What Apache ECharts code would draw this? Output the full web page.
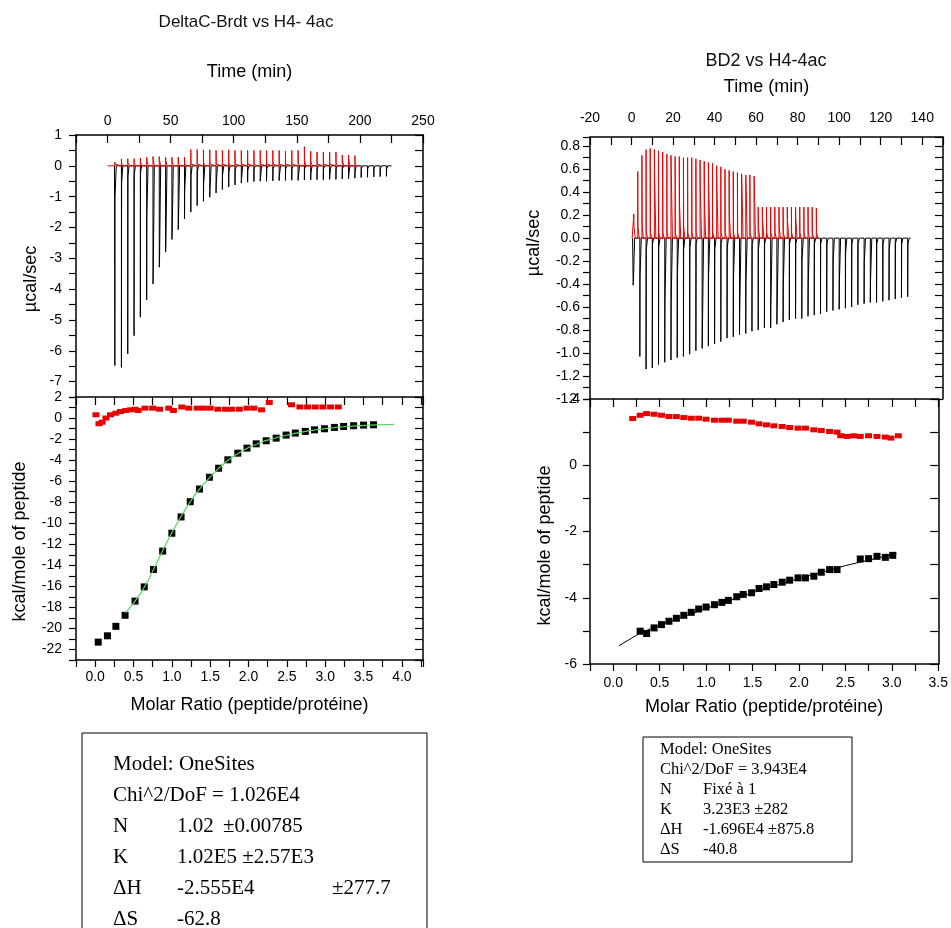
<!DOCTYPE html>
<html><head><meta charset="utf-8">
<script src="https://cdn.jsdelivr.net/npm/echarts@6/dist/echarts.min.js"></script>
<style>html,body{margin:0;padding:0;background:#fff}#c{width:951px;height:928px}</style>
</head><body><div id="c"></div>
<script>
// ---------- DATA ----------
// Left thermogram (DeltaC-Brdt vs H4-4ac), time in min, power in µcal/sec
const leftBlackTimes = [5.8,11,16,21,26,31,36,41,46,51,56,61,66,71,76,81,86,91,96,101,106,111,116,121,126,131,136,141,146,151,156,161,166,171,176,181,186,191,196,201,206,211,216,221];
const leftBlackPeaks = [-6.48,-6.54,-6.1,-5.51,-4.91,-4.35,-3.83,-3.29,-2.80,-2.39,-2.07,-1.72,-1.50,-1.29,-1.15,-1.02,-0.88,-0.77,-0.69,-0.62,-0.56,-0.53,-0.51,-0.50,-0.50,-0.49,-0.48,-0.48,-0.47,-0.47,-0.46,-0.46,-0.45,-0.45,-0.44,-0.44,-0.43,-0.42,-0.40,-0.38,-0.37,-0.36,-0.35,-0.34];
const leftBlackTails = [-1.0,-0.55,-0.35,-0.3,-0.2,-1.6,-3.7,-3.2,-2.7,-2.3,-1.9,-0.8,-0.3,-0.2,-0.6,-0.8,-0.6,-0.3,-0.2,-0.15,-0.45,-0.15,-0.1,-0.45,-0.1,-0.1,-0.35,-0.1,-0.1,-0.4,-0.1,-0.25,-0.1,-0.1,-0.3,-0.1,-0.1,-0.3,-0.2,-0.1,-0.1,-0.1,-0.1,-0.1];
const leftBlackBaseline = [5.5, 225];
const leftRedTimes = [5.8,11,16,21,26,31,36,41,46,51,56,61,66,71,76,81,86,91,96,101,106,111,116,121,126,131,136,141,146,151,156,161,166,171,176,181,186,191,196];
const leftRedPeaks = [0.12,0.23,0.23,0.23,0.25,0.28,0.3,0.3,0.28,0.28,0.28,0.28,0.53,0.53,0.52,0.52,0.5,0.5,0.52,0.5,0.5,0.5,0.5,0.5,0.5,0.5,0.5,0.48,0.5,0.5,0.62,0.47,0.45,0.45,0.45,0.45,0.35,0.35,0.33];
const leftRedTails = [0.05,0.08,0.1,0.1,0.12,0.2,0.22,0.2,0.18,0.15,0.1,0.08,0.05,0.05,0.1,0.05,0.05,0.05,0.1,0.05,0.05,0.05,0.1,0.05,0.05,0.05,0.05,0.05,0.05,0.1,0.2,0.15,0.05,0.05,0.05,0.1,0.2,0.2,0.1];
const leftRedBaseline = [0, 200];

// Left binding isotherm, molar ratio vs kcal/mole of peptide
const leftRatio = [0.04,0.16,0.27,0.39,0.52,0.64,0.76,0.88,1.0,1.12,1.24,1.36,1.49,1.61,1.73,1.86,1.98,2.1,2.23,2.36,2.49,2.61,2.74,2.86,2.99,3.12,3.24,3.37,3.5,3.63];
const leftHeat = [-21.3,-20.7,-19.8,-18.75,-17.4,-16.05,-14.4,-12.65,-10.95,-9.4,-7.95,-6.75,-5.63,-4.77,-3.97,-3.34,-2.86,-2.45,-2.16,-1.91,-1.62,-1.43,-1.27,-1.12,-1.02,-0.89,-0.8,-0.73,-0.67,-0.64];
const leftCtrlRatio = [0.01,0.05,0.09,0.14,0.2,0.27,0.33,0.4,0.46,0.52,0.56,0.65,0.75,0.84,0.96,1.02,1.13,1.22,1.33,1.41,1.5,1.6,1.7,1.78,1.88,1.98,2.07,2.17,2.27,2.56,2.67,2.77,2.87,2.97,3.07,3.17];
const leftCtrlHeat = [0.31,-0.54,-0.4,0.0,0.31,0.46,0.62,0.72,0.78,0.84,0.72,0.94,0.94,0.84,0.94,0.72,1.05,0.94,0.94,0.94,0.94,0.84,0.84,0.84,0.84,0.94,0.94,0.78,1.48,1.26,1.05,1.05,1.05,1.05,1.05,1.05];
const leftFitX = [0.4,0.52,0.6,0.7,0.8,0.9,1.0,1.1,1.2,1.3,1.4,1.5,1.6,1.7,1.8,1.9,2.0,2.2,2.4,2.6,2.8,3.0,3.2,3.4,3.6,3.9];
const leftFitY = [-18.5,-17.4,-16.6,-15.3,-13.8,-12.3,-10.9,-9.6,-8.4,-7.3,-6.4,-5.6,-4.85,-4.2,-3.65,-3.2,-2.8,-2.2,-1.8,-1.45,-1.2,-1.0,-0.85,-0.75,-0.68,-0.6];

// Right thermogram (BD2 vs H4-4ac)
const rightBlackTimes = [0.8,4,7,10,13,16,19,22,25,28,31,34,37,40,43,46,49,52,55,58,61,64,67,70,73,76,79,82,85,88,91,94,97,100,103,106,109,112,115,118,121,124,127,130,133];
const rightBlackPeaks = [-0.41,-1.03,-1.14,-1.13,-1.10,-1.08,-1.06,-1.04,-1.03,-1.01,-0.98,-0.96,-0.94,-0.92,-0.90,-0.87,-0.86,-0.84,-0.83,-0.81,-0.80,-0.78,-0.78,-0.75,-0.73,-0.71,-0.70,-0.70,-0.68,-0.67,-0.66,-0.64,-0.63,-0.62,-0.61,-0.60,-0.58,-0.57,-0.56,-0.56,-0.55,-0.54,-0.53,-0.52,-0.51];
const rightBlackTails = [-0.38,-0.33,-0.1,-0.05,-0.08,-0.55,-0.53,-0.3,-0.1,-0.08,-0.05,-0.87,-0.32,-0.1,-0.05,-0.08,-0.35,-0.65,-0.38,-0.05,-0.1,-0.05,-0.6,-0.63,-0.4,-0.05,-0.05,-0.2,-0.4,-0.05,-0.05,-0.05,-0.2,-0.38,-0.13,-0.05,-0.05,-0.2,-0.38,-0.05,-0.05,-0.1,-0.05,-0.05,-0.05];
const rightBlackBaseline = [0.5, 134.5];
const rightRedTimes = [1.1,3,5,7,9,11,13,15,17,19,21,23,25,27,29,31,33,35,37,39,41,43,45,47,49,51,53,55,57,59,61,63,65,67,69,71,73,75,77,79,81,83,85,87,89];
const rightRedPeaks = [0.21,0.58,0.72,0.77,0.78,0.77,0.76,0.75,0.73,0.72,0.71,0.71,0.70,0.70,0.70,0.69,0.68,0.67,0.66,0.65,0.63,0.62,0.60,0.59,0.58,0.57,0.56,0.55,0.55,0.54,0.27,0.27,0.27,0.27,0.27,0.27,0.27,0.27,0.27,0.27,0.27,0.27,0.27,0.27,0.26];
const rightRedTails = [0.1,0.1,0.1,0.05,0.05,0.58,0.05,0.05,0.05,0.62,0.05,0.3,0.1,0.05,0.05,0.05,0.44,0.34,0.52,0.05,0.46,0.05,0.05,0.2,0.05,0.05,0.53,0.53,0.05,0.5,0.1,0.17,0.05,0.05,0.05,0.1,0.05,0.16,0.05,0.18,0.05,0.05,0.05,0.05,0.05];
const rightRedBaseline = [0.3, 89.7];

// Right binding isotherm
const rightRatio = [0.29,0.36,0.44,0.52,0.6,0.68,0.76,0.84,0.92,1.0,1.09,1.17,1.24,1.33,1.4,1.49,1.57,1.65,1.73,1.82,1.9,1.99,2.07,2.16,2.24,2.33,2.41,2.66,2.75,2.84,2.93,3.01];
const rightHeat = [-5.01,-5.08,-4.91,-4.81,-4.71,-4.62,-4.53,-4.44,-4.34,-4.28,-4.21,-4.14,-4.08,-3.97,-3.9,-3.85,-3.72,-3.67,-3.6,-3.53,-3.47,-3.4,-3.4,-3.35,-3.23,-3.15,-3.15,-2.83,-2.82,-2.75,-2.78,-2.72];
const rightCtrlRatio = [0.21,0.29,0.36,0.44,0.52,0.6,0.68,0.76,0.84,0.92,1.0,1.09,1.17,1.24,1.33,1.4,1.49,1.57,1.65,1.73,1.82,1.9,1.99,2.07,2.16,2.24,2.33,2.41,2.45,2.52,2.59,2.66,2.75,2.84,2.93,2.99,3.07];
const rightCtrlHeat = [1.41,1.51,1.56,1.54,1.51,1.47,1.47,1.44,1.42,1.42,1.39,1.36,1.36,1.36,1.33,1.33,1.3,1.25,1.22,1.19,1.17,1.14,1.12,1.12,1.07,1.05,1.02,1.0,0.89,0.87,0.89,0.87,0.89,0.87,0.85,0.82,0.89];
const rightFitX = [0.06,0.3,0.5,1.0,1.5,2.0,2.5,3.0,3.05];
const rightFitY = [-5.45,-5.05,-4.83,-4.32,-3.85,-3.42,-3.03,-2.7,-2.67];

// Titles and fit parameter text
const leftTitle = 'DeltaC-Brdt vs H4- 4ac';
const rightTitle = 'BD2 vs H4-4ac';
const timeName = 'Time (min)';
const powerName = 'µcal/sec';
const heatName = 'kcal/mole of peptide';
const ratioName = 'Molar Ratio (peptide/protéine)';
const leftFitRows = [['Model: OneSites'], ['Chi^2/DoF = 1.026E4'], ['N', '1.02', '±0.00785'], ['K', '1.02E5 ±2.57E3'], ['ΔH', '-2.555E4', '±277.7'], ['ΔS', '-62.8']];
const rightFitRows = [['Model: OneSites'], ['Chi^2/DoF = 3.943E4'], ['N', 'Fixé à 1'], ['K', '3.23E3 ±282'], ['ΔH', '-1.696E4 ±875.8'], ['ΔS', '-40.8']];

// ---------- BUILD ----------
function spikes(times, peaks, tails, base, w1, w2) {
  const d = [[base[0], 0]];
  times.forEach((t, i) => {
    d.push([t, 0], [t, peaks[i]], [t + w1, tails[i]], [t + w2, 0]);
  });
  d.push([base[1], 0]);
  return d;
}
const zip = (a, b) => a.map((v, i) => [v, b[i]]);
const isMult = (v, m) => Math.abs(v / m - Math.round(v / m)) < 1e-6;

const FONT = '"Liberation Sans", Arial, sans-serif';
const lblStyle = { color: '#000', fontSize: 14, fontFamily: FONT };
const nameStyle = { color: '#000', fontSize: 18, fontFamily: FONT };
const lineSt = { show: true, onZero: false, lineStyle: { color: '#000', width: 1.5 } };

function mainAxis(o) {
  return Object.assign({
    type: 'value', splitLine: { show: false }, axisLine: lineSt,
    axisTick: { show: true, inside: false, length: 7, lineStyle: { color: '#000', width: 1.2 } },
  }, o);
}
function mirror(o) {
  return Object.assign({
    type: 'value', splitLine: { show: false }, axisLine: lineSt,
    axisTick: { show: true, inside: true, length: 8, lineStyle: { color: '#000', width: 1.2 } },
    axisLabel: { show: false }
  }, o);
}

const xAxis = [
  mainAxis({ gridIndex: 0, position: 'top', min: -25, max: 250, interval: 25,
    axisTick: { show: true, inside: true, length: 8, lineStyle: { color: '#000', width: 1.2 } },
    axisLabel: Object.assign({ margin: 7, showMinLabel: true, showMaxLabel: true, formatter: v => isMult(v, 50) ? String(Math.round(v)) : '' }, lblStyle),
    name: timeName, nameLocation: 'middle', nameGap: 54, nameTextStyle: nameStyle }),
  mainAxis({ gridIndex: 1, position: 'bottom', min: -0.25, max: 4.275, interval: 0.25,
    axisLabel: Object.assign({ margin: 10, showMinLabel: true, showMaxLabel: true, formatter: v => isMult(v, 0.5) ? v.toFixed(1) : '' }, lblStyle),
    name: ratioName, nameLocation: 'middle', nameGap: 36, nameTextStyle: nameStyle }),
  mirror({ gridIndex: 1, position: 'top', min: -0.25, max: 4.275, interval: 0.25 }),
  mainAxis({ gridIndex: 2, position: 'top', min: -20, max: 150, interval: 10,
    axisTick: { show: true, inside: true, length: 8, lineStyle: { color: '#000', width: 1.2 } },
    axisLabel: Object.assign({ margin: 12, showMinLabel: true, showMaxLabel: true, formatter: v => isMult(v, 20) ? String(Math.round(v)) : '' }, lblStyle),
    name: timeName, nameLocation: 'middle', nameGap: 41, nameTextStyle: nameStyle }),
  mainAxis({ gridIndex: 3, position: 'bottom', min: -0.25, max: 3.5, interval: 0.25,
    axisLabel: Object.assign({ margin: 12, showMinLabel: true, showMaxLabel: true, formatter: v => isMult(v, 0.5) ? v.toFixed(1) : '' }, lblStyle),
    name: ratioName, nameLocation: 'middle', nameGap: 34, nameTextStyle: nameStyle }),
  mirror({ gridIndex: 3, position: 'top', min: -0.25, max: 3.5, interval: 0.25 })
];

const yAxis = [
  mainAxis({ gridIndex: 0, position: 'left', min: -7.5, max: 1, interval: 0.5,
    axisLabel: Object.assign({ margin: 14, showMinLabel: true, showMaxLabel: true, formatter: v => isMult(v, 1) ? String(Math.round(v)) : '' }, lblStyle),
    name: powerName, nameLocation: 'middle', nameGap: 36, nameTextStyle: Object.assign({ padding: [0, 26, 0, 0] }, nameStyle) }),
  mirror({ gridIndex: 0, position: 'right', min: -7.5, max: 1, interval: 0.5 }),
  mainAxis({ gridIndex: 1, position: 'left', min: -23, max: 2, interval: 1,
    axisLabel: Object.assign({ margin: 14, showMinLabel: true, showMaxLabel: true, formatter: v => isMult(v, 2) ? String(Math.round(v)) : '' }, lblStyle),
    name: heatName, nameLocation: 'middle', nameGap: 47, nameTextStyle: Object.assign({ padding: [0, 26, 0, 0] }, nameStyle) }),
  mirror({ gridIndex: 1, position: 'right', min: -23, max: 2, interval: 1 }),
  mainAxis({ gridIndex: 2, position: 'left', min: -1.4, max: 0.88, interval: 0.1,
    axisLabel: Object.assign({ margin: 10, showMinLabel: true, showMaxLabel: true, formatter: v => isMult(v, 0.2) ? v.toFixed(1) : '' }, lblStyle),
    name: powerName, nameLocation: 'middle', nameGap: 47, nameTextStyle: Object.assign({ padding: [0, 0, 0, 50] }, nameStyle) }),
  mirror({ gridIndex: 2, position: 'right', min: -1.4, max: 0.88, interval: 0.1 }),
  mainAxis({ gridIndex: 3, position: 'left', min: -6, max: 2, interval: 1,
    axisLabel: Object.assign({ margin: 13, showMinLabel: true, showMaxLabel: true, formatter: v => isMult(v, 2) ? String(Math.round(v)) : '' }, lblStyle),
    name: heatName, nameLocation: 'middle', nameGap: 36, nameTextStyle: Object.assign({ padding: [0, 28, 0, 0] }, nameStyle) }),
  mirror({ gridIndex: 3, position: 'right', min: -6, max: 2, interval: 1 })
];

const RED = '#e80000';
const thin = (color) => ({ color, width: 1 });
const solid = (color) => ({ color, opacity: 1, borderWidth: 0 });

const series = [
  { type: 'line', xAxisIndex: 0, yAxisIndex: 0, showSymbol: false, symbol: 'none', lineStyle: thin('#000'), data: spikes(leftBlackTimes, leftBlackPeaks, leftBlackTails, leftBlackBaseline, 0.15, 1.1) },
  { type: 'line', xAxisIndex: 0, yAxisIndex: 0, showSymbol: false, symbol: 'none', lineStyle: thin(RED), data: spikes(leftRedTimes, leftRedPeaks, leftRedTails, leftRedBaseline, 0.15, 1.1) },
  { type: 'line', xAxisIndex: 1, yAxisIndex: 2, showSymbol: false, symbol: 'none', lineStyle: { color: '#5fd35f', width: 1.2 }, data: zip(leftFitX, leftFitY) },
  { type: 'scatter', xAxisIndex: 1, yAxisIndex: 2, symbol: 'rect', symbolSize: 7, itemStyle: solid('#000'), data: zip(leftRatio, leftHeat) },
  { type: 'scatter', xAxisIndex: 1, yAxisIndex: 2, symbol: 'rect', symbolSize: [7, 5], itemStyle: solid(RED), data: zip(leftCtrlRatio, leftCtrlHeat) },
  { type: 'line', xAxisIndex: 3, yAxisIndex: 4, showSymbol: false, symbol: 'none', lineStyle: thin('#000'), data: spikes(rightBlackTimes, rightBlackPeaks, rightBlackTails, rightBlackBaseline, 0.1, 0.7) },
  { type: 'line', xAxisIndex: 3, yAxisIndex: 4, showSymbol: false, symbol: 'none', lineStyle: thin(RED), data: spikes(rightRedTimes, rightRedPeaks, rightRedTails, rightRedBaseline, 0.1, 0.7) },
  { type: 'line', xAxisIndex: 4, yAxisIndex: 6, showSymbol: false, symbol: 'none', lineStyle: { color: '#000', width: 1 }, data: zip(rightFitX, rightFitY) },
  { type: 'scatter', xAxisIndex: 4, yAxisIndex: 6, symbol: 'rect', symbolSize: 7, itemStyle: solid('#000'), data: zip(rightRatio, rightHeat) },
  { type: 'scatter', xAxisIndex: 4, yAxisIndex: 6, symbol: 'rect', symbolSize: [7, 5], itemStyle: solid(RED), data: zip(rightCtrlRatio, rightCtrlHeat) }
];

// fit-parameter boxes
function box(rows, rect, x0, colX, y0, dy, font, extraCols) {
  const els = [{ type: 'rect', shape: rect, style: { fill: '#fff', stroke: '#000', lineWidth: 1 }, z: 10 }];
  rows.forEach((r, i) => {
    r.forEach((txt, j) => {
      let x = j === 0 ? x0 : colX;
      if (j === 2) x = extraCols[i];
      els.push({ type: 'text', x: x, y: y0 + i * dy, z: 11,
        style: { text: txt, font: font, fill: '#000', align: 'left', verticalAlign: 'middle', textAlign: 'left', textVerticalAlign: 'middle' } });
    });
  });
  return els;
}
const graphic = [].concat(
  box(leftFitRows, { x: 82, y: 733, width: 345, height: 220 }, 113, 177, 764, 31, '21px "Liberation Serif", "Times New Roman", serif', { 2: 223, 4: 332 }),
  box(rightFitRows, { x: 643, y: 737, width: 209, height: 125 }, 660, 703, 750, 20, '16.5px "Liberation Serif", "Times New Roman", serif', {})
);

const chart = echarts.init(document.getElementById('c'), null, { renderer: 'canvas' });
chart.setOption({
  animation: false,
  backgroundColor: '#fff',
  title: [
    { text: leftTitle, left: 246, top: 14, padding: 0, textAlign: 'center', textStyle: { fontSize: 17, fontWeight: 'normal', color: '#111', fontFamily: FONT } },
    { text: rightTitle, left: 766, top: 52, padding: 0, textAlign: 'center', textStyle: { fontSize: 18, fontWeight: 'normal', color: '#111', fontFamily: FONT } }
  ],
  grid: [
    { left: 76, top: 135, width: 347, height: 262 },
    { left: 76, top: 397, width: 347, height: 263 },
    { left: 590, top: 137, width: 353, height: 262 },
    { left: 590, top: 399, width: 353, height: 265 }
  ],
  xAxis, yAxis, series, graphic
});
</script>
</body></html>
